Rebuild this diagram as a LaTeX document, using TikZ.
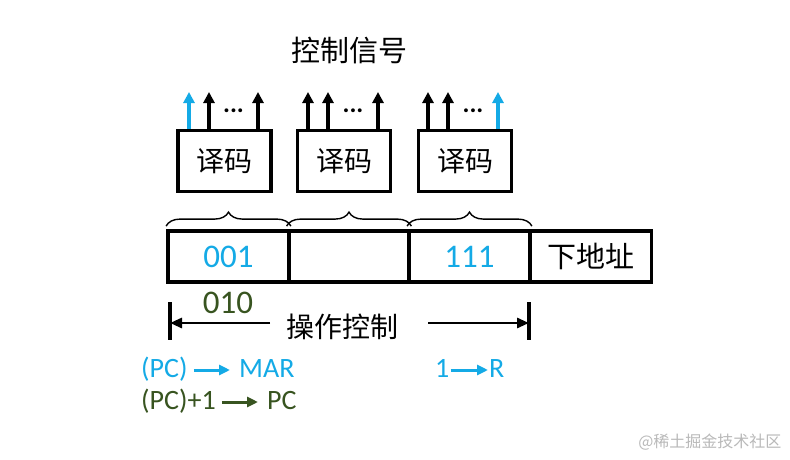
\documentclass[tikz,border=0pt]{standalone}
\usepackage{fontspec}
\setmainfont{Carlito}
\newfontfamily\cjk{Noto Sans CJK SC}
\usetikzlibrary{arrows.meta, decorations.pathreplacing}
\definecolor{sigblue}{RGB}{20,170,230}
\definecolor{opgreen}{RGB}{56,84,32}

\begin{document}
\begin{tikzpicture}[x=1pt, y=-1pt]
	\tikzstyle{dec} = [draw, line width=3.8pt, minimum width=93pt, minimum height=61pt, inner sep=0pt, font=\cjk\fontsize{28}{28}\selectfont]
	\tikzstyle{fld} = [draw, line width=3.8pt, minimum width=121pt, minimum height=51pt, inner sep=0pt, font=\fontsize{33}{33}\selectfont]
	\tikzstyle{sig} = [line width=3.6pt, -{Triangle[length=11pt, width=11pt]}]
	\tikzstyle{brc} = [decorate, decoration={brace, amplitude=14pt, raise=3pt}, line width=1.4pt]
	\tikzstyle{eq} = [inner sep=0pt, anchor=west, text height=19pt, text depth=5pt, font=\fontsize{28}{28}\selectfont]
	\tikzstyle{eqa} = [line width=3pt, -{Triangle[length=11pt, width=10pt]}]
	\useasboundingbox (0,0) rectangle (790,460);
	\fill[white] (0,0) rectangle (790,460);

	\node[font=\cjk\fontsize{29}{29}\selectfont] (title) at (349,51) {控制信号};

	% decoders
	\node[dec] (dec1) at (224.5,161) {译码};
	\node[dec] (dec2) at (344,161) {译码};
	\node[dec] (dec3) at (465,161) {译码};

	% control signals out of each decoder
	\foreach \d/\xa/\xb/\xc/\ca/\cc in {1/189/209/258/sigblue/black, 2/308/328/378/black/black, 3/428/448/498/black/sigblue} {
		\coordinate (s\d a) at (\xa,92);
		\coordinate (s\d b) at (\xb,92);
		\coordinate (s\d c) at (\xc,92);
		\draw[sig, \ca] (dec\d.north -| s\d a) -- (s\d a);
		\draw[sig] (dec\d.north -| s\d b) -- (s\d b);
		\draw[sig, \cc] (dec\d.north -| s\d c) -- (s\d c);
		\node[font=\fontsize{26}{26}\selectfont] (dots\d) at ({(\xb+\xc)/2},111) {\textbf{...}};
	}

	% micro-instruction fields
	\node[fld, text=sigblue] (f1) at (228.5,256.5) {001};
	\node[fld] (f2) at (349,256.5) {};
	\node[fld, text=sigblue] (f3) at (469.5,256.5) {111};
	\node[fld, font=\cjk\fontsize{29}{29}\selectfont] (f4) at (591,256.5) {下地址};
	\foreach \f in {1,2,3}
		\draw[brc] (f\f.north west) -- (f\f.north east);

	\node[text=opgreen, font=\fontsize{33}{33}\selectfont] (op) at (228,303) {010};

	% extent of the operation control part
	\coordinate (lt) at (170,302);
	\coordinate (lb) at (170,340);
	\coordinate (rt) at (529,302);
	\coordinate (rb) at (529,340);
	\coordinate (lm) at (170,323);
	\coordinate (rm) at (529,323);
	\coordinate (al) at (270,323);
	\coordinate (ar) at (428,323);
	\draw[line width=3.8pt] (lt) -- (lb);
	\draw[line width=3.8pt] (rt) -- (rb);
	\node[font=\cjk\fontsize{28}{28}\selectfont] (ctl) at (342,327) {操作控制};
	\draw[line width=2.8pt, -{Triangle[length=12pt, width=10pt]}] (al) -- (lm);
	\draw[line width=2.8pt, -{Triangle[length=12pt, width=10pt]}] (ar) -- (rm);

	% micro-operations
	\node[eq, text=sigblue] (pc1) at (141,370) {(PC)};
	\node[eq, text=sigblue] (mar) at (239,370) {MAR};
	\draw[eqa, sigblue, shorten <=6pt, shorten >=9pt] (pc1.east) -- (mar.west);
	\node[eq, text=opgreen] (pc2) at (141,402) {(PC)+1};
	\node[eq, text=opgreen] (pc3) at (267,402) {PC};
	\draw[eqa, opgreen, shorten <=6pt, shorten >=9pt] (pc2.east) -- (pc3.west);
	\node[eq, text=sigblue] (one) at (435,370) {1};
	\node[eq, text=sigblue] (reg) at (489,370) {R};
	\draw[eqa, sigblue, shorten <=1pt, shorten >=1pt] (one.east) -- (reg.west);

	\node[text=gray!55, anchor=east, font=\cjk\fontsize{16}{16}\selectfont] (wm) at (785,442) {@稀土掘金技术社区};
\end{tikzpicture}
\end{document}
